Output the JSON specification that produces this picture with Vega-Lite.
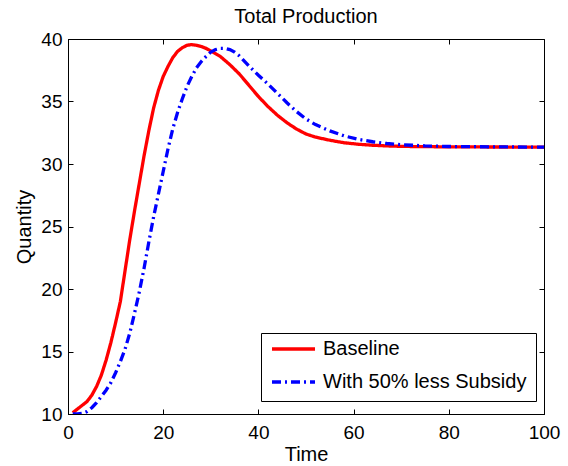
{
  "$schema": "https://vega.github.io/schema/vega-lite/v6.json",
  "autosize": {"type": "none"},
  "width": 476,
  "height": 375,
  "padding": {"left": 68, "top": 39, "right": 24, "bottom": 52},
  "background": "white",
  "title": {"text": "Total Production", "fontSize": 20, "fontWeight": "normal", "font": "Liberation Sans", "color": "black", "offset": 3},
  "config": {
    "view": {"stroke": "black", "strokeWidth": 1},
    "axis": {"grid": false, "labelFlush": false, "labelOverlap": false, "labelFont": "Liberation Sans", "labelFontSize": 19, "labelColor": "black", "titleFont": "Liberation Sans", "titleFontSize": 20, "titleFontWeight": "normal", "titleColor": "black", "domainColor": "black", "tickColor": "black", "tickSize": 5}
  },
  "datasets": {
    "prod": [
      {"t": 1, "q": 10.1, "s": "Baseline"},
      {"t": 2, "q": 10.4, "s": "Baseline"},
      {"t": 3, "q": 10.7, "s": "Baseline"},
      {"t": 4, "q": 11.0, "s": "Baseline"},
      {"t": 5, "q": 11.5, "s": "Baseline"},
      {"t": 6, "q": 12.2, "s": "Baseline"},
      {"t": 7, "q": 13.1, "s": "Baseline"},
      {"t": 8, "q": 14.3, "s": "Baseline"},
      {"t": 9, "q": 15.7, "s": "Baseline"},
      {"t": 10, "q": 17.3, "s": "Baseline"},
      {"t": 11, "q": 19.0, "s": "Baseline"},
      {"t": 12, "q": 21.5, "s": "Baseline"},
      {"t": 13, "q": 24.0, "s": "Baseline"},
      {"t": 14, "q": 26.3, "s": "Baseline"},
      {"t": 15, "q": 28.5, "s": "Baseline"},
      {"t": 16, "q": 30.7, "s": "Baseline"},
      {"t": 17, "q": 32.7, "s": "Baseline"},
      {"t": 18, "q": 34.5, "s": "Baseline"},
      {"t": 19, "q": 35.9, "s": "Baseline"},
      {"t": 20, "q": 37.0, "s": "Baseline"},
      {"t": 21, "q": 37.8, "s": "Baseline"},
      {"t": 22, "q": 38.5, "s": "Baseline"},
      {"t": 23, "q": 39.0, "s": "Baseline"},
      {"t": 24, "q": 39.3, "s": "Baseline"},
      {"t": 25, "q": 39.5, "s": "Baseline"},
      {"t": 26, "q": 39.55, "s": "Baseline"},
      {"t": 27, "q": 39.5, "s": "Baseline"},
      {"t": 28, "q": 39.4, "s": "Baseline"},
      {"t": 29, "q": 39.25, "s": "Baseline"},
      {"t": 30, "q": 39.05, "s": "Baseline"},
      {"t": 32, "q": 38.6, "s": "Baseline"},
      {"t": 34, "q": 37.95, "s": "Baseline"},
      {"t": 36, "q": 37.2, "s": "Baseline"},
      {"t": 38, "q": 36.3, "s": "Baseline"},
      {"t": 40, "q": 35.4, "s": "Baseline"},
      {"t": 42, "q": 34.6, "s": "Baseline"},
      {"t": 44, "q": 33.9, "s": "Baseline"},
      {"t": 46, "q": 33.3, "s": "Baseline"},
      {"t": 48, "q": 32.8, "s": "Baseline"},
      {"t": 50, "q": 32.4, "s": "Baseline"},
      {"t": 52, "q": 32.15, "s": "Baseline"},
      {"t": 55, "q": 31.9, "s": "Baseline"},
      {"t": 58, "q": 31.7, "s": "Baseline"},
      {"t": 61, "q": 31.58, "s": "Baseline"},
      {"t": 64, "q": 31.5, "s": "Baseline"},
      {"t": 68, "q": 31.43, "s": "Baseline"},
      {"t": 72, "q": 31.4, "s": "Baseline"},
      {"t": 80, "q": 31.37, "s": "Baseline"},
      {"t": 90, "q": 31.36, "s": "Baseline"},
      {"t": 100, "q": 31.35, "s": "Baseline"},
      {"t": 1, "q": 10.0, "s": "With 50% less Subsidy"},
      {"t": 2, "q": 10.0, "s": "With 50% less Subsidy"},
      {"t": 3, "q": 10.05, "s": "With 50% less Subsidy"},
      {"t": 4, "q": 10.2, "s": "With 50% less Subsidy"},
      {"t": 5, "q": 10.5, "s": "With 50% less Subsidy"},
      {"t": 6, "q": 10.9, "s": "With 50% less Subsidy"},
      {"t": 7, "q": 11.4, "s": "With 50% less Subsidy"},
      {"t": 8, "q": 11.9, "s": "With 50% less Subsidy"},
      {"t": 9, "q": 12.5, "s": "With 50% less Subsidy"},
      {"t": 10, "q": 13.3, "s": "With 50% less Subsidy"},
      {"t": 11, "q": 14.2, "s": "With 50% less Subsidy"},
      {"t": 12, "q": 15.2, "s": "With 50% less Subsidy"},
      {"t": 13, "q": 16.5, "s": "With 50% less Subsidy"},
      {"t": 14, "q": 18.1, "s": "With 50% less Subsidy"},
      {"t": 15, "q": 19.8, "s": "With 50% less Subsidy"},
      {"t": 16, "q": 21.7, "s": "With 50% less Subsidy"},
      {"t": 17, "q": 23.8, "s": "With 50% less Subsidy"},
      {"t": 18, "q": 25.8, "s": "With 50% less Subsidy"},
      {"t": 19, "q": 27.6, "s": "With 50% less Subsidy"},
      {"t": 20, "q": 29.4, "s": "With 50% less Subsidy"},
      {"t": 21, "q": 31.2, "s": "With 50% less Subsidy"},
      {"t": 22, "q": 32.8, "s": "With 50% less Subsidy"},
      {"t": 23, "q": 34.1, "s": "With 50% less Subsidy"},
      {"t": 24, "q": 35.2, "s": "With 50% less Subsidy"},
      {"t": 25, "q": 36.2, "s": "With 50% less Subsidy"},
      {"t": 26, "q": 37.0, "s": "With 50% less Subsidy"},
      {"t": 27, "q": 37.7, "s": "With 50% less Subsidy"},
      {"t": 28, "q": 38.2, "s": "With 50% less Subsidy"},
      {"t": 29, "q": 38.6, "s": "With 50% less Subsidy"},
      {"t": 30, "q": 38.95, "s": "With 50% less Subsidy"},
      {"t": 31, "q": 39.15, "s": "With 50% less Subsidy"},
      {"t": 32, "q": 39.25, "s": "With 50% less Subsidy"},
      {"t": 33, "q": 39.25, "s": "With 50% less Subsidy"},
      {"t": 34, "q": 39.15, "s": "With 50% less Subsidy"},
      {"t": 35, "q": 38.95, "s": "With 50% less Subsidy"},
      {"t": 36, "q": 38.65, "s": "With 50% less Subsidy"},
      {"t": 38, "q": 37.85, "s": "With 50% less Subsidy"},
      {"t": 40, "q": 37.1, "s": "With 50% less Subsidy"},
      {"t": 42, "q": 36.4, "s": "With 50% less Subsidy"},
      {"t": 44, "q": 35.65, "s": "With 50% less Subsidy"},
      {"t": 46, "q": 34.9, "s": "With 50% less Subsidy"},
      {"t": 48, "q": 34.2, "s": "With 50% less Subsidy"},
      {"t": 50, "q": 33.6, "s": "With 50% less Subsidy"},
      {"t": 52, "q": 33.15, "s": "With 50% less Subsidy"},
      {"t": 55, "q": 32.65, "s": "With 50% less Subsidy"},
      {"t": 58, "q": 32.25, "s": "With 50% less Subsidy"},
      {"t": 61, "q": 31.97, "s": "With 50% less Subsidy"},
      {"t": 64, "q": 31.78, "s": "With 50% less Subsidy"},
      {"t": 67, "q": 31.64, "s": "With 50% less Subsidy"},
      {"t": 70, "q": 31.55, "s": "With 50% less Subsidy"},
      {"t": 75, "q": 31.45, "s": "With 50% less Subsidy"},
      {"t": 80, "q": 31.4, "s": "With 50% less Subsidy"},
      {"t": 90, "q": 31.37, "s": "With 50% less Subsidy"},
      {"t": 100, "q": 31.35, "s": "With 50% less Subsidy"}
    ]
  },
  "data": {"name": "prod"},
  "layer": [
    {
      "mark": {"type": "line", "opacity": 0},
      "encoding": {
        "x": {"field": "t", "type": "quantitative", "axis": {"orient": "top", "offset": -375, "values": [0, 20, 40, 60, 80, 100], "labels": false, "domain": false, "title": null}},
        "y": {"field": "q", "type": "quantitative", "axis": {"orient": "right", "offset": -476, "values": [10, 15, 20, 25, 30, 35, 40], "labels": false, "domain": false, "title": null}}
      }
    },
    {
      "mark": {"type": "line", "opacity": 0},
      "encoding": {
        "x": {"field": "t", "type": "quantitative", "axis": {"orient": "bottom", "offset": -375, "values": [0, 20, 40, 60, 80, 100], "labels": false, "domain": false, "title": null}},
        "y": {"field": "q", "type": "quantitative", "axis": {"orient": "left", "offset": -476, "values": [10, 15, 20, 25, 30, 35, 40], "labels": false, "domain": false, "title": null}}
      }
    },
    {
      "mark": {"type": "line", "strokeWidth": 3.3, "strokeCap": "butt", "clip": true},
      "encoding": {
        "x": {"field": "t", "type": "quantitative", "title": "Time", "scale": {"domain": [0, 100], "nice": false}, "axis": {"orient": "bottom", "values": [0, 20, 40, 60, 80, 100], "ticks": false, "labelPadding": 9, "titlePadding": 2}},
        "y": {"field": "q", "type": "quantitative", "title": "Quantity", "scale": {"domain": [10, 40], "nice": false, "zero": false}, "axis": {"orient": "left", "values": [10, 15, 20, 25, 30, 35, 40], "ticks": false, "labelPadding": 6, "titlePadding": 6}},
        "color": {"field": "s", "type": "nominal", "scale": {"domain": ["Baseline", "With 50% less Subsidy"], "range": ["#ff0000", "#0000ff"]}, "legend": {"title": null, "orient": "none", "legendX": 193, "legendY": 294, "strokeColor": "black", "fillColor": "white", "padding": 9, "clipHeight": 14, "rowPadding": 13, "symbolType": "stroke", "symbolSize": 1849, "symbolStrokeWidth": 3.3, "labelFont": "Liberation Sans", "labelFontSize": 20, "labelColor": "black", "labelOffset": 6, "labelLimit": 400, "cornerRadius": 0}},
        "strokeDash": {"field": "s", "type": "nominal", "scale": {"domain": ["Baseline", "With 50% less Subsidy"], "range": [[1, 0], [9, 4, 2, 4]]}, "legend": null}
      }
    }
  ],
  "resolve": {"axis": {"x": "independent", "y": "independent"}}
}
